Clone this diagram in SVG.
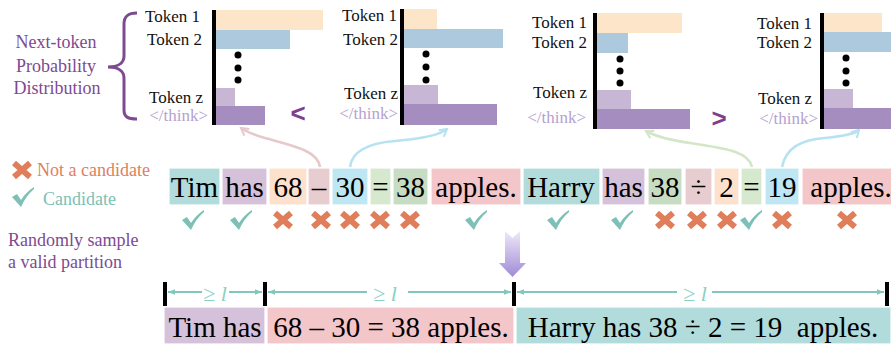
<svg xmlns="http://www.w3.org/2000/svg" width="891" height="347" viewBox="0 0 891 347" font-family="'Liberation Serif', Tinos, 'Times New Roman', 'DejaVu Serif', serif">
<style>
text{font-family:"Liberation Serif",Tinos,"Times New Roman","DejaVu Serif",serif}
.lbl{font-size:17px;fill:#111;text-anchor:end}
.thk{font-size:17px;fill:#b6a1d0;text-anchor:end}
.axis{stroke:#000;stroke-width:4}
.b1{fill:#fde5c9}.b2{fill:#acc9de}.bz{fill:#c8b7d4}.bt{fill:#a58dbf}
.tok{stroke:#fff;stroke-width:1.2}
.tt{font-size:29px;fill:#000;text-anchor:middle}
.cTeal{fill:#b2dbdc}.cPur{fill:#d5c1d9}.cOr{fill:#fde1cd}.cRose{fill:#e8cdd0}.cBlue{fill:#bee6f3}.cLg{fill:#d6e8cd}.cGr{fill:#c6dcc3}.cPink{fill:#f3c6c9}
.purp{fill:#7e4a91;font-size:18px}
.dim{stroke:#82c7bb;stroke-width:1.8;fill:none}
.dtx{font-size:22px;fill:#8ccfc4;text-anchor:middle}
.tick{stroke:#000;stroke-width:4}
.conn{fill:none;stroke-width:2.6}
.sym{font-family:"Liberation Sans",Arial,sans-serif;font-size:26px;font-weight:bold;fill:#7e3f8e;text-anchor:middle}
</style>
<defs>
<g id="xm"><path d="M-8,-7 L8,7 M-8,7 L8,-7" stroke="#e07e5c" stroke-width="6" fill="none"/></g>
<g id="ck"><path d="M-11,0 L-6,-3 L-2,3 C2,-3 6,-7 11,-10 L11,-8 C5,-3 1,3 -2,10 Z" fill="#7cc0b6"/></g>
<marker id="mp" viewBox="0 0 10 10" refX="8" refY="5" markerWidth="4" markerHeight="4" orient="auto" markerUnits="strokeWidth"><path d="M1,1 L8,5 L1,9" fill="none" stroke="#e6c9cb" stroke-width="2"/></marker>
<marker id="mb" viewBox="0 0 10 10" refX="8" refY="5" markerWidth="4" markerHeight="4" orient="auto" markerUnits="strokeWidth"><path d="M1,1 L8,5 L1,9" fill="none" stroke="#b7e3f1" stroke-width="2"/></marker>
<marker id="mg" viewBox="0 0 10 10" refX="8" refY="5" markerWidth="4" markerHeight="4" orient="auto" markerUnits="strokeWidth"><path d="M1,1 L8,5 L1,9" fill="none" stroke="#d3e6c8" stroke-width="2"/></marker>
<marker id="da" viewBox="0 0 10 10" refX="10" refY="5" markerWidth="4" markerHeight="4" orient="auto-start-reverse" markerUnits="strokeWidth"><path d="M0,1 L10,5 L0,9 Z" fill="#82c7bb"/></marker>
<linearGradient id="dg" x1="0" y1="0" x2="0" y2="1"><stop offset="0" stop-color="#efe9f8"/><stop offset="1" stop-color="#a08ad6"/></linearGradient>
</defs>

<g id="legend-left">
<path d="M137,13 C128,13 124,16 124,24 L124,56 C124,63 118,67 108,67 C118,67 124,71 124,78 L124,110 C124,117 128,119 137,119" fill="none" stroke="#7e4a91" stroke-width="3"/>
<text class="purp" x="56" y="48" text-anchor="middle">Next-token</text>
<text class="purp" x="56" y="72" text-anchor="middle">Probability</text>
<text class="purp" x="57" y="94" text-anchor="middle">Distribution</text>
<use href="#xm" x="22" y="170"/>
<text x="37" y="176" style="font-size:18px;fill:#e0805e">Not a candidate</text>
<use href="#ck" x="23" y="197"/>
<text x="43" y="205" style="font-size:18px;fill:#7cc0b6">Candidate</text>
<text class="purp" x="8" y="246">Randomly sample</text>
<text class="purp" x="8" y="268">a valid partition</text>
</g>

<g id="chart1">
<rect class="b1" x="216" y="10" width="107" height="20"/>
<rect class="b2" x="216" y="30" width="74" height="19"/>
<circle cx="238" cy="55" r="3.5"/><circle cx="238" cy="68" r="3.5"/><circle cx="238" cy="80" r="3.5"/>
<rect class="bz" x="216" y="88" width="19" height="18"/>
<rect class="bt" x="216" y="106" width="49" height="19"/>
<line class="axis" x1="214" y1="10" x2="214" y2="125"/>
<text class="lbl" x="200" y="22">Token 1</text>
<text class="lbl" x="202" y="45">Token 2</text>
<text class="lbl" x="203" y="103">Token z</text>
<text class="thk" x="208" y="121">&lt;/think&gt;</text>
</g>

<g id="chart2">
<rect class="b1" x="404" y="9" width="33" height="20"/>
<rect class="b2" x="404" y="29" width="99" height="19"/>
<circle cx="426" cy="54" r="3.5"/><circle cx="426" cy="67" r="3.5"/><circle cx="426" cy="80" r="3.5"/>
<rect class="bz" x="404" y="85" width="34" height="19"/>
<rect class="bt" x="404" y="104" width="93" height="21"/>
<line class="axis" x1="402" y1="9" x2="402" y2="125"/>
<text class="lbl" x="397" y="21">Token 1</text>
<text class="lbl" x="398" y="45">Token 2</text>
<text class="lbl" x="398" y="99">Token z</text>
<text class="thk" x="398" y="119">&lt;/think&gt;</text>
</g>

<g id="chart3">
<rect class="b1" x="597" y="13" width="85" height="20"/>
<rect class="b2" x="597" y="33" width="31" height="20"/>
<circle cx="620" cy="59" r="3.5"/><circle cx="620" cy="71" r="3.5"/><circle cx="620" cy="83" r="3.5"/>
<rect class="bz" x="597" y="90" width="34" height="19"/>
<rect class="bt" x="597" y="109" width="93" height="20"/>
<line class="axis" x1="595" y1="13" x2="595" y2="129"/>
<text class="lbl" x="587" y="28">Token 1</text>
<text class="lbl" x="587" y="48">Token 2</text>
<text class="lbl" x="587" y="98">Token z</text>
<text class="thk" x="586" y="123">&lt;/think&gt;</text>
</g>

<g id="chart4">
<rect class="b1" x="824" y="13" width="58" height="20"/>
<rect class="b2" x="824" y="32" width="67" height="20"/>
<circle cx="846" cy="58" r="3.5"/><circle cx="846" cy="71" r="3.5"/><circle cx="846" cy="83" r="3.5"/>
<rect class="bz" x="824" y="89" width="29" height="19"/>
<rect class="bt" x="824" y="108" width="67" height="21"/>
<line class="axis" x1="822" y1="13" x2="822" y2="129"/>
<text class="lbl" x="812" y="29">Token 1</text>
<text class="lbl" x="812" y="48">Token 2</text>
<text class="lbl" x="812" y="104">Token z</text>
<text class="thk" x="818" y="124">&lt;/think&gt;</text>
</g>

<g id="compare">
<text class="sym" x="298" y="122">&lt;</text>
<text class="sym" x="719" y="127">&gt;</text>
</g>

<g id="tokens">
<rect class="tok cTeal" x="169" y="168" width="51" height="37"/><text class="tt" x="194.5" y="197">Tim</text>
<rect class="tok cPur" x="222" y="168" width="45" height="37"/><text class="tt" x="244.5" y="197">has</text>
<rect class="tok cOr" x="269" y="168" width="38" height="37"/><text class="tt" x="288" y="197">68</text>
<rect class="tok cRose" x="308" y="168" width="22" height="37"/><text class="tt" x="319" y="197">–</text>
<rect class="tok cBlue" x="332" y="168" width="36" height="37"/><text class="tt" x="350" y="197">30</text>
<rect class="tok cLg" x="370" y="168" width="21" height="37"/><text class="tt" x="380.5" y="197">=</text>
<rect class="tok cGr" x="393" y="168" width="35" height="37"/><text class="tt" x="410.5" y="197">38</text>
<rect class="tok cPink" x="431" y="168" width="90" height="37"/><text class="tt" x="476" y="197">apples.</text>
<rect class="tok cTeal" x="523" y="168" width="77" height="37"/><text class="tt" x="561" y="197">Harry</text>
<rect class="tok cPur" x="602" y="168" width="43" height="37"/><text class="tt" x="623.5" y="197">has</text>
<rect class="tok cGr" x="648" y="168" width="34" height="37"/><text class="tt" x="665" y="197">38</text>
<rect class="tok cRose" x="685" y="168" width="27" height="37"/><text class="tt" x="698.5" y="197">÷</text>
<rect class="tok cOr" x="714" y="168" width="25" height="37"/><text class="tt" x="726.5" y="197">2</text>
<rect class="tok cLg" x="741" y="168" width="21" height="37"/><text class="tt" x="751.5" y="197">=</text>
<rect class="tok cBlue" x="765" y="168" width="34" height="37"/><text class="tt" x="782" y="197">19</text>
<rect class="tok cPink" x="802" y="168" width="90" height="37"/><text class="tt" x="851" y="197">apples.</text>
</g>

<g id="marks">
<use href="#ck" x="193" y="220"/>
<use href="#ck" x="241" y="220"/>
<use href="#xm" x="283" y="220"/>
<use href="#xm" x="321" y="220"/>
<use href="#xm" x="350" y="220"/>
<use href="#xm" x="380" y="220"/>
<use href="#xm" x="410" y="220"/>
<use href="#ck" x="476" y="220"/>
<use href="#ck" x="558" y="220"/>
<use href="#ck" x="622" y="220"/>
<use href="#xm" x="665" y="220"/>
<use href="#xm" x="697" y="220"/>
<use href="#xm" x="727" y="220"/>
<use href="#ck" x="751" y="220"/>
<use href="#xm" x="782" y="220"/>
<use href="#xm" x="847" y="220"/>
</g>

<g id="connectors">
<path class="conn" stroke="#e6c9cb" marker-end="url(#mp)" d="M320,167 C318,150 290,145 265,138 C252,134 245,131 241,128"/>
<path class="conn" stroke="#b7e3f1" marker-end="url(#mb)" d="M350,167 C352,150 370,143 395,141 C420,139 438,136 447,129"/>
<path class="conn" stroke="#d3e6c8" marker-end="url(#mg)" d="M752,167 C748,150 720,148 690,143 C668,140 655,136 646,131"/>
<path class="conn" stroke="#b7e3f1" marker-end="url(#mb)" d="M782,167 C786,148 800,140 825,138 C845,136 855,134 859,130"/>
</g>

<g id="down-arrow">
<path d="M505,231 L512.5,238 L520,231 L520,263 L526,263 L512.5,277 L499,263 L505,263 Z" fill="url(#dg)"/>
</g>

<g id="partition">
<line class="tick" x1="165" y1="282" x2="165" y2="306"/>
<line class="tick" x1="265" y1="282" x2="265" y2="306"/>
<line class="tick" x1="514" y1="282" x2="514" y2="306"/>
<line class="tick" x1="887" y1="282" x2="887" y2="306"/>
<line class="dim" x1="168" y1="292" x2="202" y2="292" marker-start="url(#da)"/>
<line class="dim" x1="229" y1="292" x2="262" y2="292" marker-end="url(#da)"/>
<text class="dtx" x="215" y="301">≥ <tspan font-style="italic">l</tspan></text>
<line class="dim" x1="268" y1="292" x2="367" y2="292" marker-start="url(#da)"/>
<line class="dim" x1="408" y1="292" x2="511" y2="292" marker-end="url(#da)"/>
<text class="dtx" x="385" y="301">≥ <tspan font-style="italic">l</tspan></text>
<line class="dim" x1="517" y1="292" x2="677" y2="292" marker-start="url(#da)"/>
<line class="dim" x1="712" y1="292" x2="884" y2="292" marker-end="url(#da)"/>
<text class="dtx" x="695" y="301">≥ <tspan font-style="italic">l</tspan></text>
<rect class="tok cPur" x="164" y="307" width="101" height="37"/>
<text class="tt" x="215" y="337">Tim has</text>
<rect class="tok cPink" x="267" y="307" width="247" height="37"/>
<text class="tt" x="391" y="337">68 – 30 = 38 apples.</text>
<rect class="tok cTeal" x="516" y="307" width="375" height="37"/>
<text class="tt" x="703" y="337" xml:space="preserve">Harry has 38 ÷ 2 = 19  apples.</text>
</g>
</svg>
